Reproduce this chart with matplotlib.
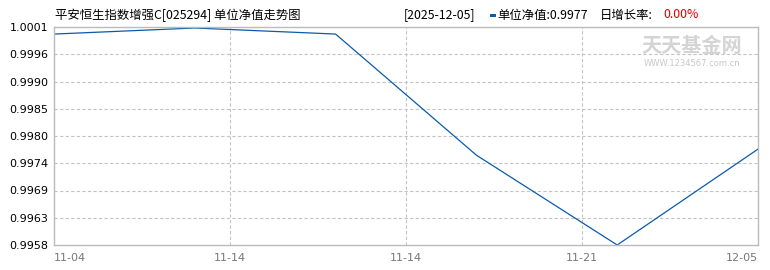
import matplotlib
matplotlib.use("Agg")
import matplotlib.pyplot as plt
from matplotlib.patches import Rectangle
import numpy as np

plt.rcParams['font.family'] = ['Noto Sans CJK SC', 'DejaVu Sans']

# data
nav_values = [0.99998, 1.0001, 0.99998, 0.99758, 0.9958, 0.9977]
x_tick_labels = ['11-04', '11-14', '11-14', '11-21', '12-05']
y_min, y_max = 0.9958, 1.00012
title = '平安恒生指数增强C[025294] 单位净值走势图'
last_date = '[2025-12-05]'
last_nav = '0.9977'
daily_growth = '0.00%'

fig = plt.figure(figsize=(7.7, 2.7), dpi=100)
ax = fig.add_axes([54/770, 1-245/270, 704/770, 218/270])

x = np.arange(len(nav_values))
ax.plot(x, nav_values, color='#0A5BAC', lw=0.9)
ax.set_xlim(0, len(nav_values) - 1)
ax.set_ylim(y_min, y_max)

yt = np.linspace(y_min, y_max, 9)
ax.set_yticks(yt)
ax.set_yticklabels([f'{v:.4f}' for v in yt], fontsize=8, color='black', family='DejaVu Sans')
xt = np.linspace(0, len(nav_values) - 1, len(x_tick_labels))
ax.set_xticks(xt)
ax.set_xticklabels(x_tick_labels, fontsize=8, color='#777777', family='DejaVu Sans')
labs = ax.get_xticklabels()
labs[0].set_ha('left')
labs[-1].set_ha('right')
ax.tick_params(axis='both', length=0)
ax.tick_params(axis='y', pad=4)
ax.tick_params(axis='x', pad=6)

for v in yt[1:-1]:
    ax.axhline(v, color='#c4c4c4', lw=0.8, ls=(0, (3, 2)), zorder=0)
for v in xt[1:-1]:
    ax.axvline(v, color='#c4c4c4', lw=0.8, ls=(0, (3, 2)), zorder=0)
for s in ax.spines.values():
    s.set_color('#bbbbbb')
    s.set_linewidth(1)

# header
fig.text(55/770, 1-15/270, title, fontsize=8.9, va='center', ha='left')
fig.text(404/770, 1-15/270, last_date, fontsize=8.9, va='center', ha='left')
fig.add_artist(Rectangle((490/770, 1-17/270), 6/770, 3/270, transform=fig.transFigure,
                         facecolor='#0A5BAC', edgecolor='none'))
fig.text(497/770, 1-15/270, '单位净值:' + last_nav, fontsize=8.9, va='center', ha='left')
fig.text(600/770, 1-15/270, '日增长率:', fontsize=8.9, va='center', ha='left')
fig.text(663/770, 1-15/270, daily_growth, fontsize=8.9, va='center', ha='left', color='#e00000')

# watermark
fig.text(692/770, 1-46/270, '天天基金网', fontsize=14.5, va='center', ha='center', color='#d4d4d4', fontweight='bold')
fig.text(692/770, 1-63/270, 'WWW.1234567.com.cn', fontsize=6, va='center', ha='center', color='#c8c8c8', family='DejaVu Sans')

fig.savefig('out.png', dpi=100)
